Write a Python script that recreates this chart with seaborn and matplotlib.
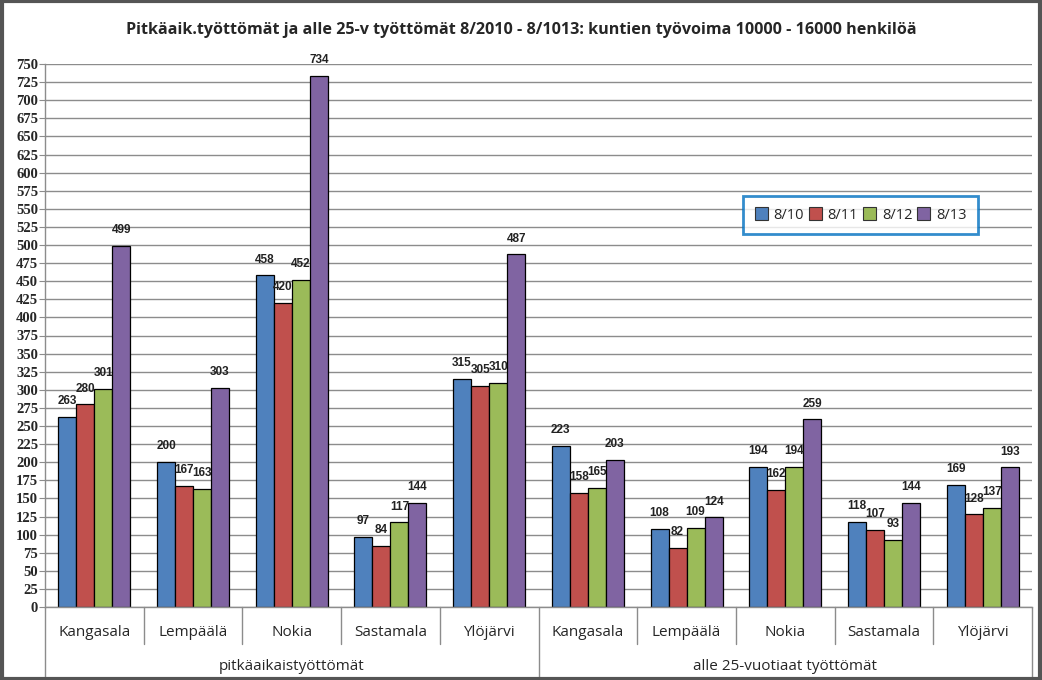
import matplotlib
matplotlib.use("Agg")
import matplotlib.pyplot as plt
import matplotlib.transforms as mtransforms
import seaborn as sns
import pandas as pd
import numpy as np

# ---- data ----
groups = ["pitkäaikaistyöttömät", "alle 25-vuotiaat työttömät"]
municipalities = ["Kangasala", "Lempäälä", "Nokia", "Sastamala", "Ylöjärvi"]
series = ["8/10", "8/11", "8/12", "8/13"]
v_8_10 = [263, 200, 458, 97, 315, 223, 108, 194, 118, 169]
v_8_11 = [280, 167, 420, 84, 305, 158, 82, 162, 107, 128]
v_8_12 = [301, 163, 452, 117, 310, 165, 109, 194, 93, 137]
v_8_13 = [499, 303, 734, 144, 487, 203, 124, 259, 144, 193]
yticks = list(range(0, 751, 25))
title = "Pitkäaik.työttömät ja alle 25-v työttömät 8/2010 - 8/1013: kuntien työvoima 10000 - 16000 henkilöä"

colors = ["#4F81BD", "#C0504D", "#9BBB59", "#8064A2"]

keys = [f"{g}|{m}" for g in groups for m in municipalities]
rows = []
for s, vals in zip(series, [v_8_10, v_8_11, v_8_12, v_8_13]):
    for k, v in zip(keys, vals):
        rows.append({"key": k, "series": s, "value": v})
df = pd.DataFrame(rows)

sns.set_style("white")
plt.rcParams["font.family"] = ["DejaVu Sans"]

fig = plt.figure(figsize=(10.42, 6.8), dpi=100)
ax = fig.add_axes([45 / 1042, (680 - 607) / 680, (1032 - 45) / 1042, (607 - 64) / 680])

sns.barplot(data=df, x="key", y="value", hue="series", order=keys, hue_order=series,
            palette=colors, width=0.73, gap=0, edgecolor="black", linewidth=0.9,
            saturation=1, ax=ax, legend=True)

for cont in ax.containers:
    ax.bar_label(cont, fmt="%d", padding=7, fontsize=8.5, fontweight="bold",
                 family="Liberation Sans", color="#222222")

ax.set_ylim(0, 750)
ax.set_xlim(-0.5, len(keys) - 0.5)
ax.set_yticks(yticks)
ax.set_yticklabels([str(t) for t in yticks], fontsize=10.5, fontweight="bold", family="Liberation Serif")
ax.yaxis.grid(True, color="#8C8C8C", linewidth=1)
ax.set_axisbelow(True)
ax.tick_params(axis="y", length=4, color="#8C8C8C", pad=1, left=True)
ax.set_xticks([])
ax.set_xlabel("")
ax.set_ylabel("")
for side in ["top", "right"]:
    ax.spines[side].set_visible(False)
for side in ["left", "bottom"]:
    ax.spines[side].set_color("#8C8C8C")
    ax.spines[side].set_linewidth(1)

ah = 607 - 64
aw = 1032 - 45
trans = mtransforms.blended_transform_factory(ax.transData, ax.transAxes)
# category labels and separators
for i, k in enumerate(keys):
    ax.text(i, -25 / ah, k.split("|")[1], transform=trans, ha="center", va="center",
            fontsize=11, family="Open Sans")
for i in range(len(keys) + 1):
    xpos = i - 0.5
    if i % len(municipalities) == 0:
        ax.plot([xpos, xpos], [0, -73 / ah], transform=trans, color="#8C8C8C", lw=1, clip_on=False)
    else:
        ax.plot([xpos, xpos], [0, -37 / ah], transform=trans, color="#8C8C8C", lw=1, clip_on=False)
for gi, g in enumerate(groups):
    center = gi * len(municipalities) + (len(municipalities) - 1) / 2
    ax.text(center, -60 / ah, g, transform=trans, ha="center", va="center",
            fontsize=11, family="Open Sans")

# legend
leg = ax.legend(title=None, ncol=4, loc="center",
                bbox_to_anchor=((743 - 45) / aw, (607 - 233) / ah, (978 - 743) / aw, 36 / ah),
                mode="expand", borderaxespad=0, frameon=True, fancybox=False,
                handlelength=0.9, handleheight=0.9, handletextpad=0.4, columnspacing=1.2,
                borderpad=0.8, prop={"family": "Open Sans", "size": 10.5})
leg.get_frame().set_edgecolor("#0070C0")
leg.get_frame().set_linewidth(2)
for h in leg.legend_handles:
    h.set_edgecolor("#333333")
    h.set_linewidth(0.8)

fig.text(521 / 1042, 1 - 30 / 680, title, ha="center", va="center", fontsize=11.6,
         fontweight="bold", family="Open Sans")

# figure border
fig.patches.append(plt.Rectangle((0.0015, 0.002), 0.997, 0.996, transform=fig.transFigure,
                                 fill=False, edgecolor="#555555", linewidth=3))

fig.savefig("out.png", dpi=100)
